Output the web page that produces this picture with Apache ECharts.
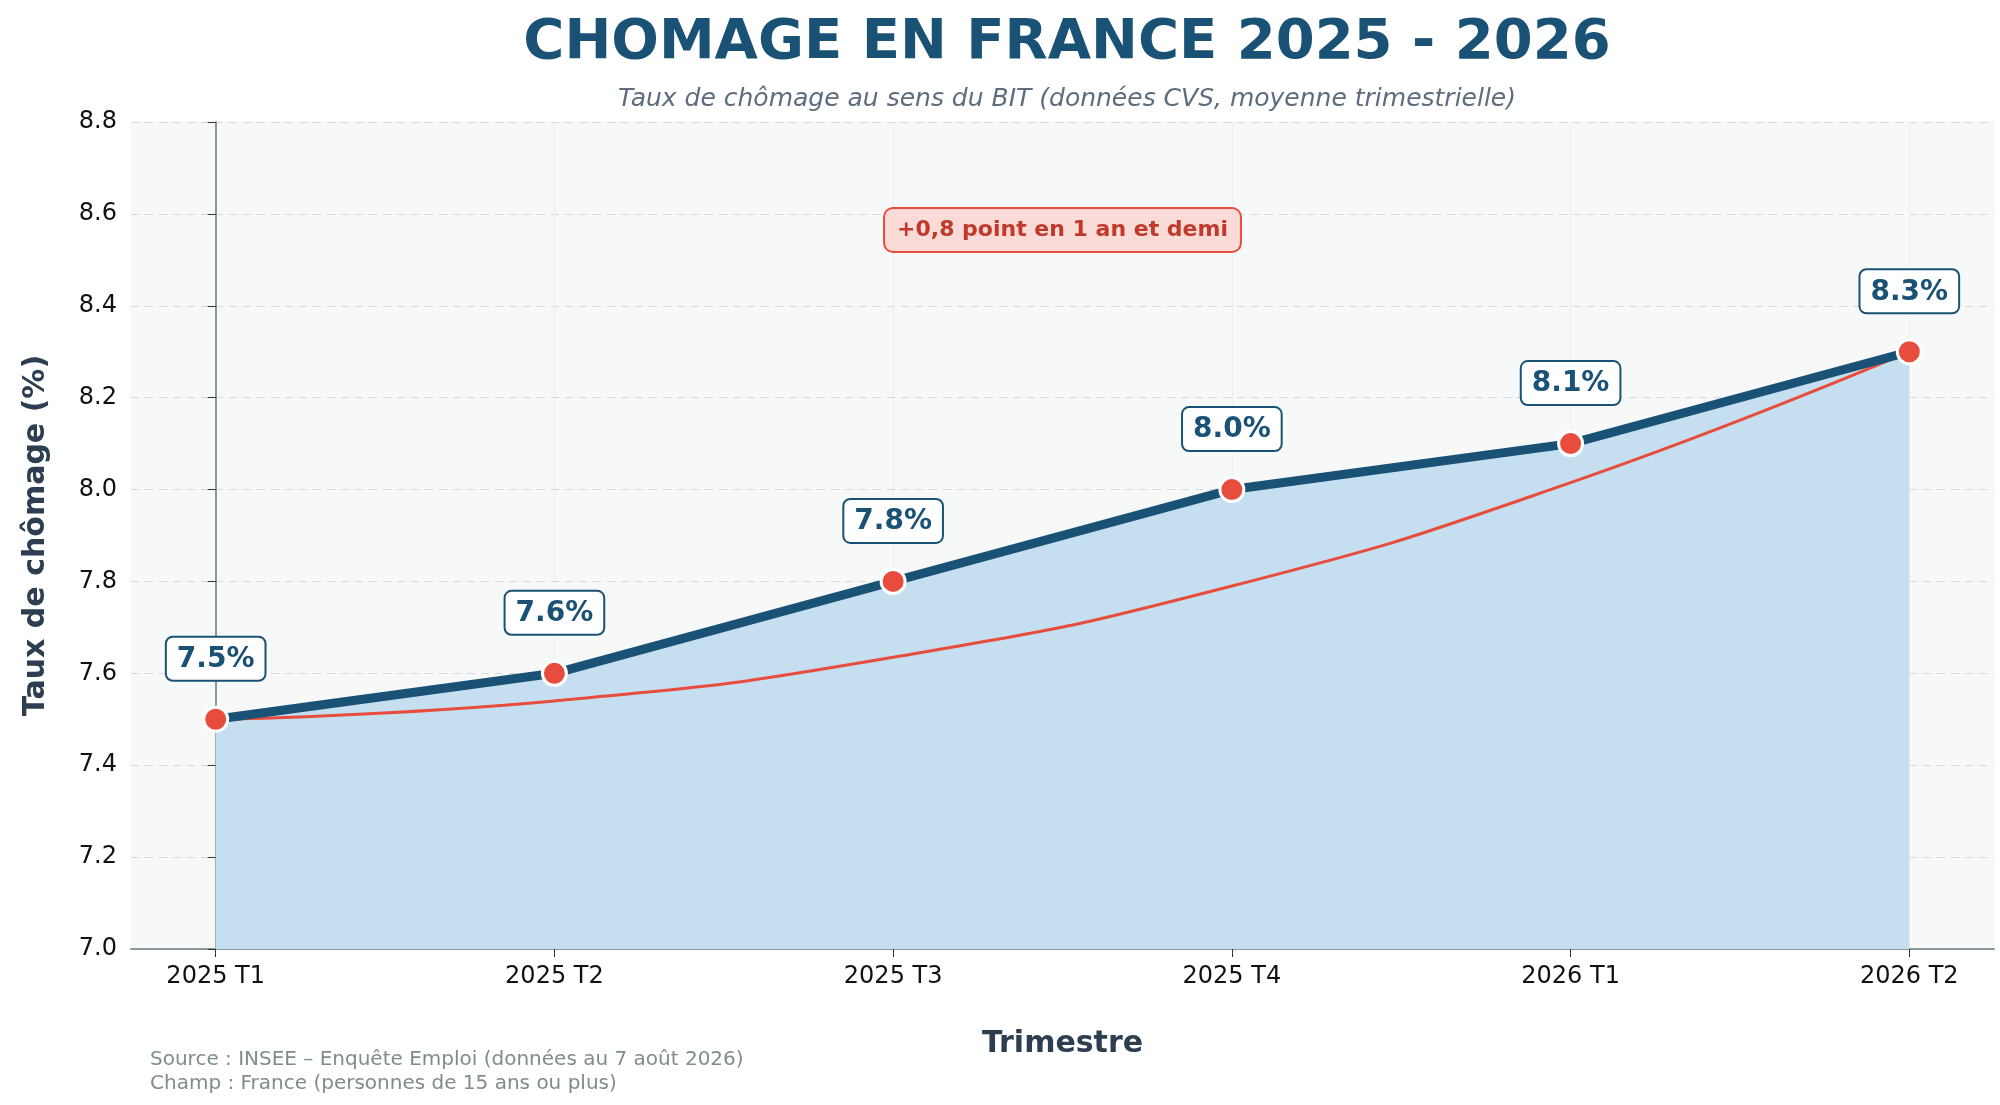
<!DOCTYPE html>
<html><head><meta charset="utf-8">
<script src="https://cdn.jsdelivr.net/npm/echarts@6/dist/echarts.min.js"></script>
<style>html,body{margin:0;padding:0;background:#fff}#c{width:2000px;height:1105px}</style>
</head><body><div id="c"></div>
<script>
const categories = ['2025 T1','2025 T2','2025 T3','2025 T4','2026 T1','2026 T2'];
const rates = [7.5, 7.6, 7.8, 8.0, 8.1, 8.3];
const trend = [7.5, 7.54, 7.635, 7.79, 8.015, 8.3];
const yTicks = [7.0, 7.2, 7.4, 7.6, 7.8, 8.0, 8.2, 8.4, 8.6, 8.8];
const F = 'DejaVu Sans';
const chart = echarts.init(document.getElementById('c'));
const idx = categories.map((_, i) => i);
chart.setOption({
  animation: false,
  textStyle: {fontFamily: F},
  title: [
    {text: 'CHOMAGE EN FRANCE 2025 - 2026', left: 1062, top: 10, textAlign: 'center',
     textStyle: {fontSize: 56, fontWeight: 'bold', color: '#1a5276', fontFamily: F}},
    {text: 'Taux de chômage au sens du BIT (données CVS, moyenne trimestrielle)', left: 1062, top: 82, textAlign: 'center',
     textStyle: {fontSize: 25, fontStyle: 'italic', fontWeight: 'normal', color: '#5d6d7e', fontFamily: F}}
  ],
  graphic: [
    {type: 'text', left: 150, top: 1048, style: {text: 'Source : INSEE – Enquête Emploi (données au 7 août 2026)\nChamp : France (personnes de 15 ans ou plus)', fill: '#7f8c8d', font: '20px "DejaVu Sans"', lineHeight: 24}}
  ],
  grid: {left: 131, right: 6, top: 122, bottom: 156, backgroundColor: '#f7f9f9', show: true, borderWidth: 0},
  xAxis: {
    type: 'value', min: -0.25, max: 5.25,
    name: 'Trimestre', nameLocation: 'middle', nameGap: 80,
    nameTextStyle: {fontSize: 30, fontWeight: 'bold', color: '#2c3e50'},
    axisLine: {show: true, lineStyle: {color: '#8a9a9a', width: 2}},
    axisTick: {show: true, customValues: idx, length: 8, lineStyle: {color: '#333'}},
    axisLabel: {customValues: idx, formatter: v => categories[Math.round(v)], fontSize: 24, color: '#111', margin: 16},
    splitLine: {show: true, customValues: idx, lineStyle: {color: '#e3e6e6', type: 'dotted'}}
  },
  yAxis: {
    type: 'value', min: 7.0, max: 8.8, interval: 0.2,
    name: 'Taux de chômage (%)', nameLocation: 'middle', nameGap: 80,
    nameTextStyle: {fontSize: 30, fontWeight: 'bold', color: '#2c3e50'},
    axisLine: {show: true, lineStyle: {color: '#8a9a9a', width: 2}},
    axisTick: {show: true, length: 8, lineStyle: {color: '#333'}},
    axisLabel: {formatter: v => yTicks.find(t => Math.abs(t - v) < 1e-6)?.toFixed(1) ?? v.toFixed(1), fontSize: 24, color: '#111', margin: 14},
    splitLine: {lineStyle: {color: '#d5d8dc', type: [8, 6]}}
  },
  series: [
    {type: 'line', data: rates.map((v, i) => [i, v]), symbol: 'none', lineStyle: {width: 0},
     areaStyle: {color: '#c6dff0', opacity: 1, origin: 'start'}, z: 1, silent: true},
    {type: 'line', data: trend.map((v, i) => [i, v]), smooth: 0.5, symbol: 'none',
     lineStyle: {color: '#e74c3c', width: 3}, z: 3},
    {type: 'line', data: rates.map((v, i) => [i, v]), symbol: 'circle', symbolSize: 24,
     lineStyle: {color: '#1a5276', width: 9},
     itemStyle: {color: '#e74c3c', borderColor: '#fff', borderWidth: 3},
     label: {show: true, position: 'top', distance: 26, formatter: p => p.value[1].toFixed(1) + '%',
       fontSize: 28, fontWeight: 'bold', color: '#1a5276', backgroundColor: '#fff',
       borderColor: '#1a5276', borderWidth: 2, borderRadius: 6, padding: [8, 10, 6, 10]},
     z: 4,
     markPoint: {symbol: 'rect', symbolSize: 0,
       data: [{coord: [2.5, 8.565], value: 0}],
       label: {show: true, formatter: '+0,8 point en 1 an et demi', fontSize: 22, fontWeight: 'bold',
         color: '#c0392b', backgroundColor: '#fadbd8', borderColor: '#e74c3c', borderWidth: 2,
         borderRadius: 8, padding: [10, 12, 10, 12]}}}
  ]
});
</script></body></html>
